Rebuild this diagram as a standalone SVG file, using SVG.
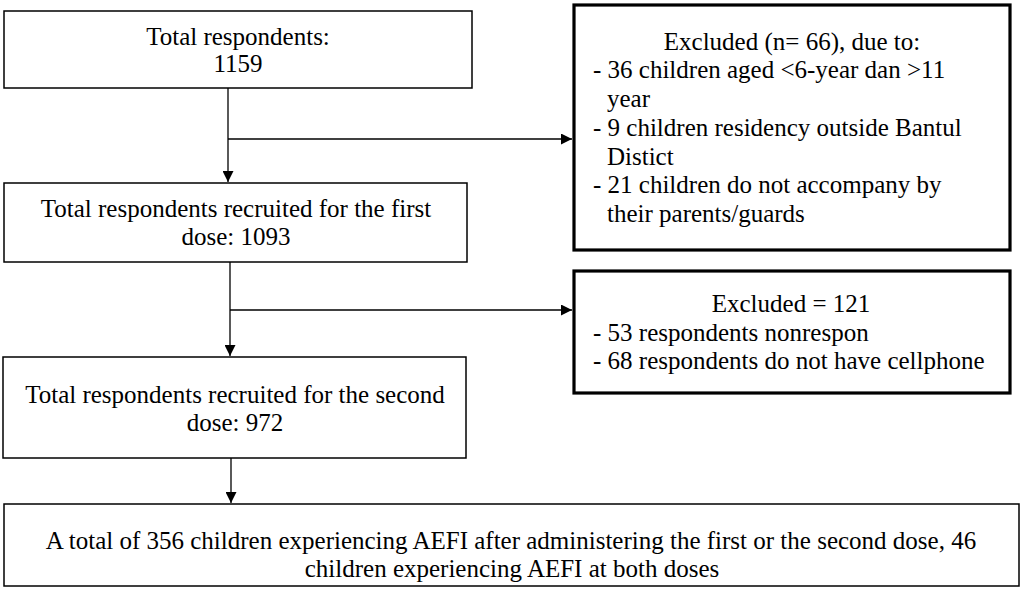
<svg xmlns="http://www.w3.org/2000/svg" width="1021" height="590" viewBox="0 0 1021 590">
<style>
.t text{font-family:'Liberation Serif','Times New Roman',Times,serif;font-size:25px;fill:#000}
.c{text-anchor:middle}
.box{fill:#fff;stroke:#000;stroke-width:1.5}
.ex{fill:#fff;stroke:#000;stroke-width:3.2}
.ln{fill:none;stroke:#000;stroke-width:1.3}
</style>
<defs>
<marker id="ah" viewBox="0 0 11 11" refX="11" refY="5.5" markerWidth="11" markerHeight="11" markerUnits="userSpaceOnUse" orient="auto">
<path d="M0,0 L11,5.5 L0,11 Z" fill="#000"/>
</marker>
<clipPath id="clip4"><rect x="5" y="505" width="1013" height="78"/></clipPath>
</defs>
<g id="connectors">
<line class="ln" x1="228" y1="88" x2="228" y2="182" marker-end="url(#ah)"/>
<line class="ln" x1="228" y1="139" x2="572" y2="139" marker-end="url(#ah)"/>
<line class="ln" x1="230" y1="262" x2="230" y2="356" marker-end="url(#ah)"/>
<line class="ln" x1="230" y1="310" x2="572" y2="310" marker-end="url(#ah)"/>
<line class="ln" x1="231" y1="458" x2="231" y2="503" marker-end="url(#ah)"/>
</g>
<g class="t" font-family="Liberation Serif, serif">
<g id="n1">
<rect class="box" x="4" y="11" width="468" height="77"/>
<text class="c" x="238" y="45">Total respondents:</text>
<text class="c" x="238" y="72">1159</text>
</g>
<g id="n2">
<rect class="box" x="4" y="183" width="463" height="79"/>
<text class="c" x="236" y="217">Total respondents recruited for the first</text>
<text class="c" x="236" y="245">dose: 1093</text>
</g>
<g id="n3">
<rect class="box" x="3" y="357" width="463" height="101"/>
<text class="c" x="235" y="403">Total respondents recruited for the second</text>
<text class="c" x="235" y="431">dose: 972</text>
</g>
<g id="n4">
<rect class="box" x="4" y="504" width="1015" height="82"/>
<g clip-path="url(#clip4)">
<text class="c" x="511" y="549">A total of 356 children experiencing AEFI after administering the first or the second dose, 46</text>
<text class="c" x="512" y="577">children experiencing AEFI at both doses</text>
</g>
</g>
<g id="ex1">
<rect class="ex" x="574" y="5" width="436" height="245"/>
<text class="c" x="792" y="50">Excluded (n= 66), due to:</text>
<text x="593" y="78">- 36 children aged &lt;6-year dan &gt;11</text>
<text x="607" y="107">year</text>
<text x="593" y="136">- 9 children residency outside Bantul</text>
<text x="607" y="165">Distict</text>
<text x="593" y="193">- 21 children do not accompany by</text>
<text x="607" y="222">their parents/guards</text>
</g>
<g id="ex2">
<rect class="ex" x="574" y="271" width="436" height="122"/>
<text class="c" x="791" y="312">Excluded = 121</text>
<text x="593" y="341">- 53 respondents nonrespon</text>
<text x="593" y="369">- 68 respondents do not have cellphone</text>
</g>
</g>
</svg>
